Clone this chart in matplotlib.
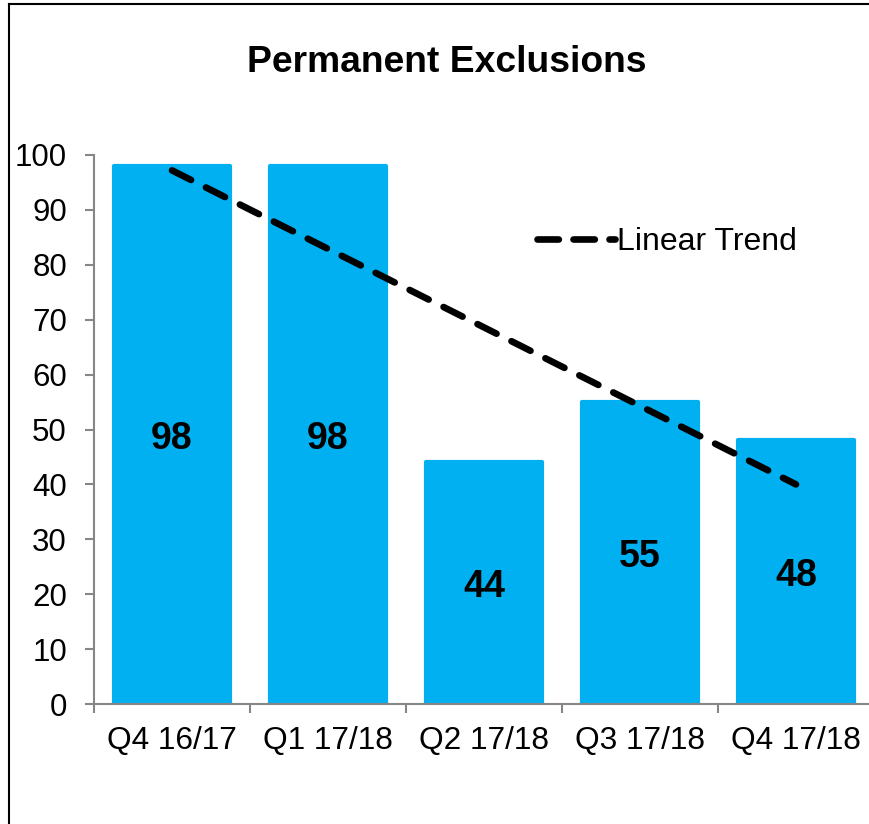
import numpy as np
import matplotlib
matplotlib.use("Agg")
import matplotlib.pyplot as plt
from matplotlib.lines import Line2D

categories = ["Q4 16/17", "Q1 17/18", "Q2 17/18", "Q3 17/18", "Q4 17/18"]
values = [98, 98, 44, 55, 48]
yticks = [0, 10, 20, 30, 40, 50, 60, 70, 80, 90, 100]
title = "Permanent Exclusions"
legend_label = "Linear Trend"

plt.rcParams['font.family'] = ['Liberation Sans', 'DejaVu Sans']

W, H = 869, 824
fig = plt.figure(figsize=(W / 100, H / 100), dpi=100)
ax = fig.add_axes([94 / W, (H - 704) / H, 780 / W, (704 - 155) / H])

bar_color = "#00B0F0"
axis_color = "#868686"
x = np.arange(len(categories))
ax.bar(x, values, width=0.74, color=bar_color, edgecolor=bar_color, linewidth=3,
       joinstyle="round", zorder=2)

for xi, v in zip(x, values):
    ax.text(xi, v / 2, str(v), ha="center", va="center_baseline", fontsize=27,
            fontweight="bold", color="black", zorder=4)

# linear trend from data
coef = np.polyfit(x, values, 1)
trend = np.polyval(coef, x)
ax.plot(x, trend, color="black", linewidth=4.8, linestyle=(0, (3.2, 2.5)),
        dash_capstyle="round", zorder=3, label=legend_label)

ax.set_xlim(-0.5, len(categories) - 0.5)
ax.set_ylim(0, 100)
ax.set_yticks(yticks)
ax.set_xticks(x)
ax.set_xticklabels(categories)
ax.set_xticks(np.arange(-0.5, len(categories), 1.0), minor=True)

for s in ["top", "right"]:
    ax.spines[s].set_visible(False)
for s in ["left", "bottom"]:
    ax.spines[s].set_color(axis_color)
    ax.spines[s].set_linewidth(1.5)
ax.spines["bottom"].set_zorder(5)

ax.tick_params(axis="y", length=6.5, width=1.5, color=axis_color, pad=13,
               labelsize=22.5, labelcolor="black")
ax.tick_params(axis="x", which="major", length=0, pad=16, labelsize=22.8, labelcolor="black")
ax.tick_params(axis="x", which="minor", length=6.5, width=1.5, color=axis_color)

fig.text(447 / W, 1 - 63 / H, title, ha="center", va="center", fontsize=26.8, fontweight="bold")

handle = Line2D([0], [0], color="black", linewidth=4.8, linestyle=(0, (3.2, 2.2)),
                dash_capstyle="round")
fig.legend([handle], [legend_label], loc="center left",
           bbox_to_anchor=(537 / W, 1 - 242 / H), frameon=False, fontsize=23,
           handlelength=2.45, handletextpad=0.05, borderpad=0, borderaxespad=0)

# outer frame (left and top edges visible)
fig.add_artist(Line2D([9 / W, 9 / W], [0, 1 - 4 / H], color="black", linewidth=1.5,
                      transform=fig.transFigure))
fig.add_artist(Line2D([9 / W, 1], [1 - 4 / H, 1 - 4 / H], color="black", linewidth=1.5,
                      transform=fig.transFigure))

fig.savefig("out.png", dpi=100)
